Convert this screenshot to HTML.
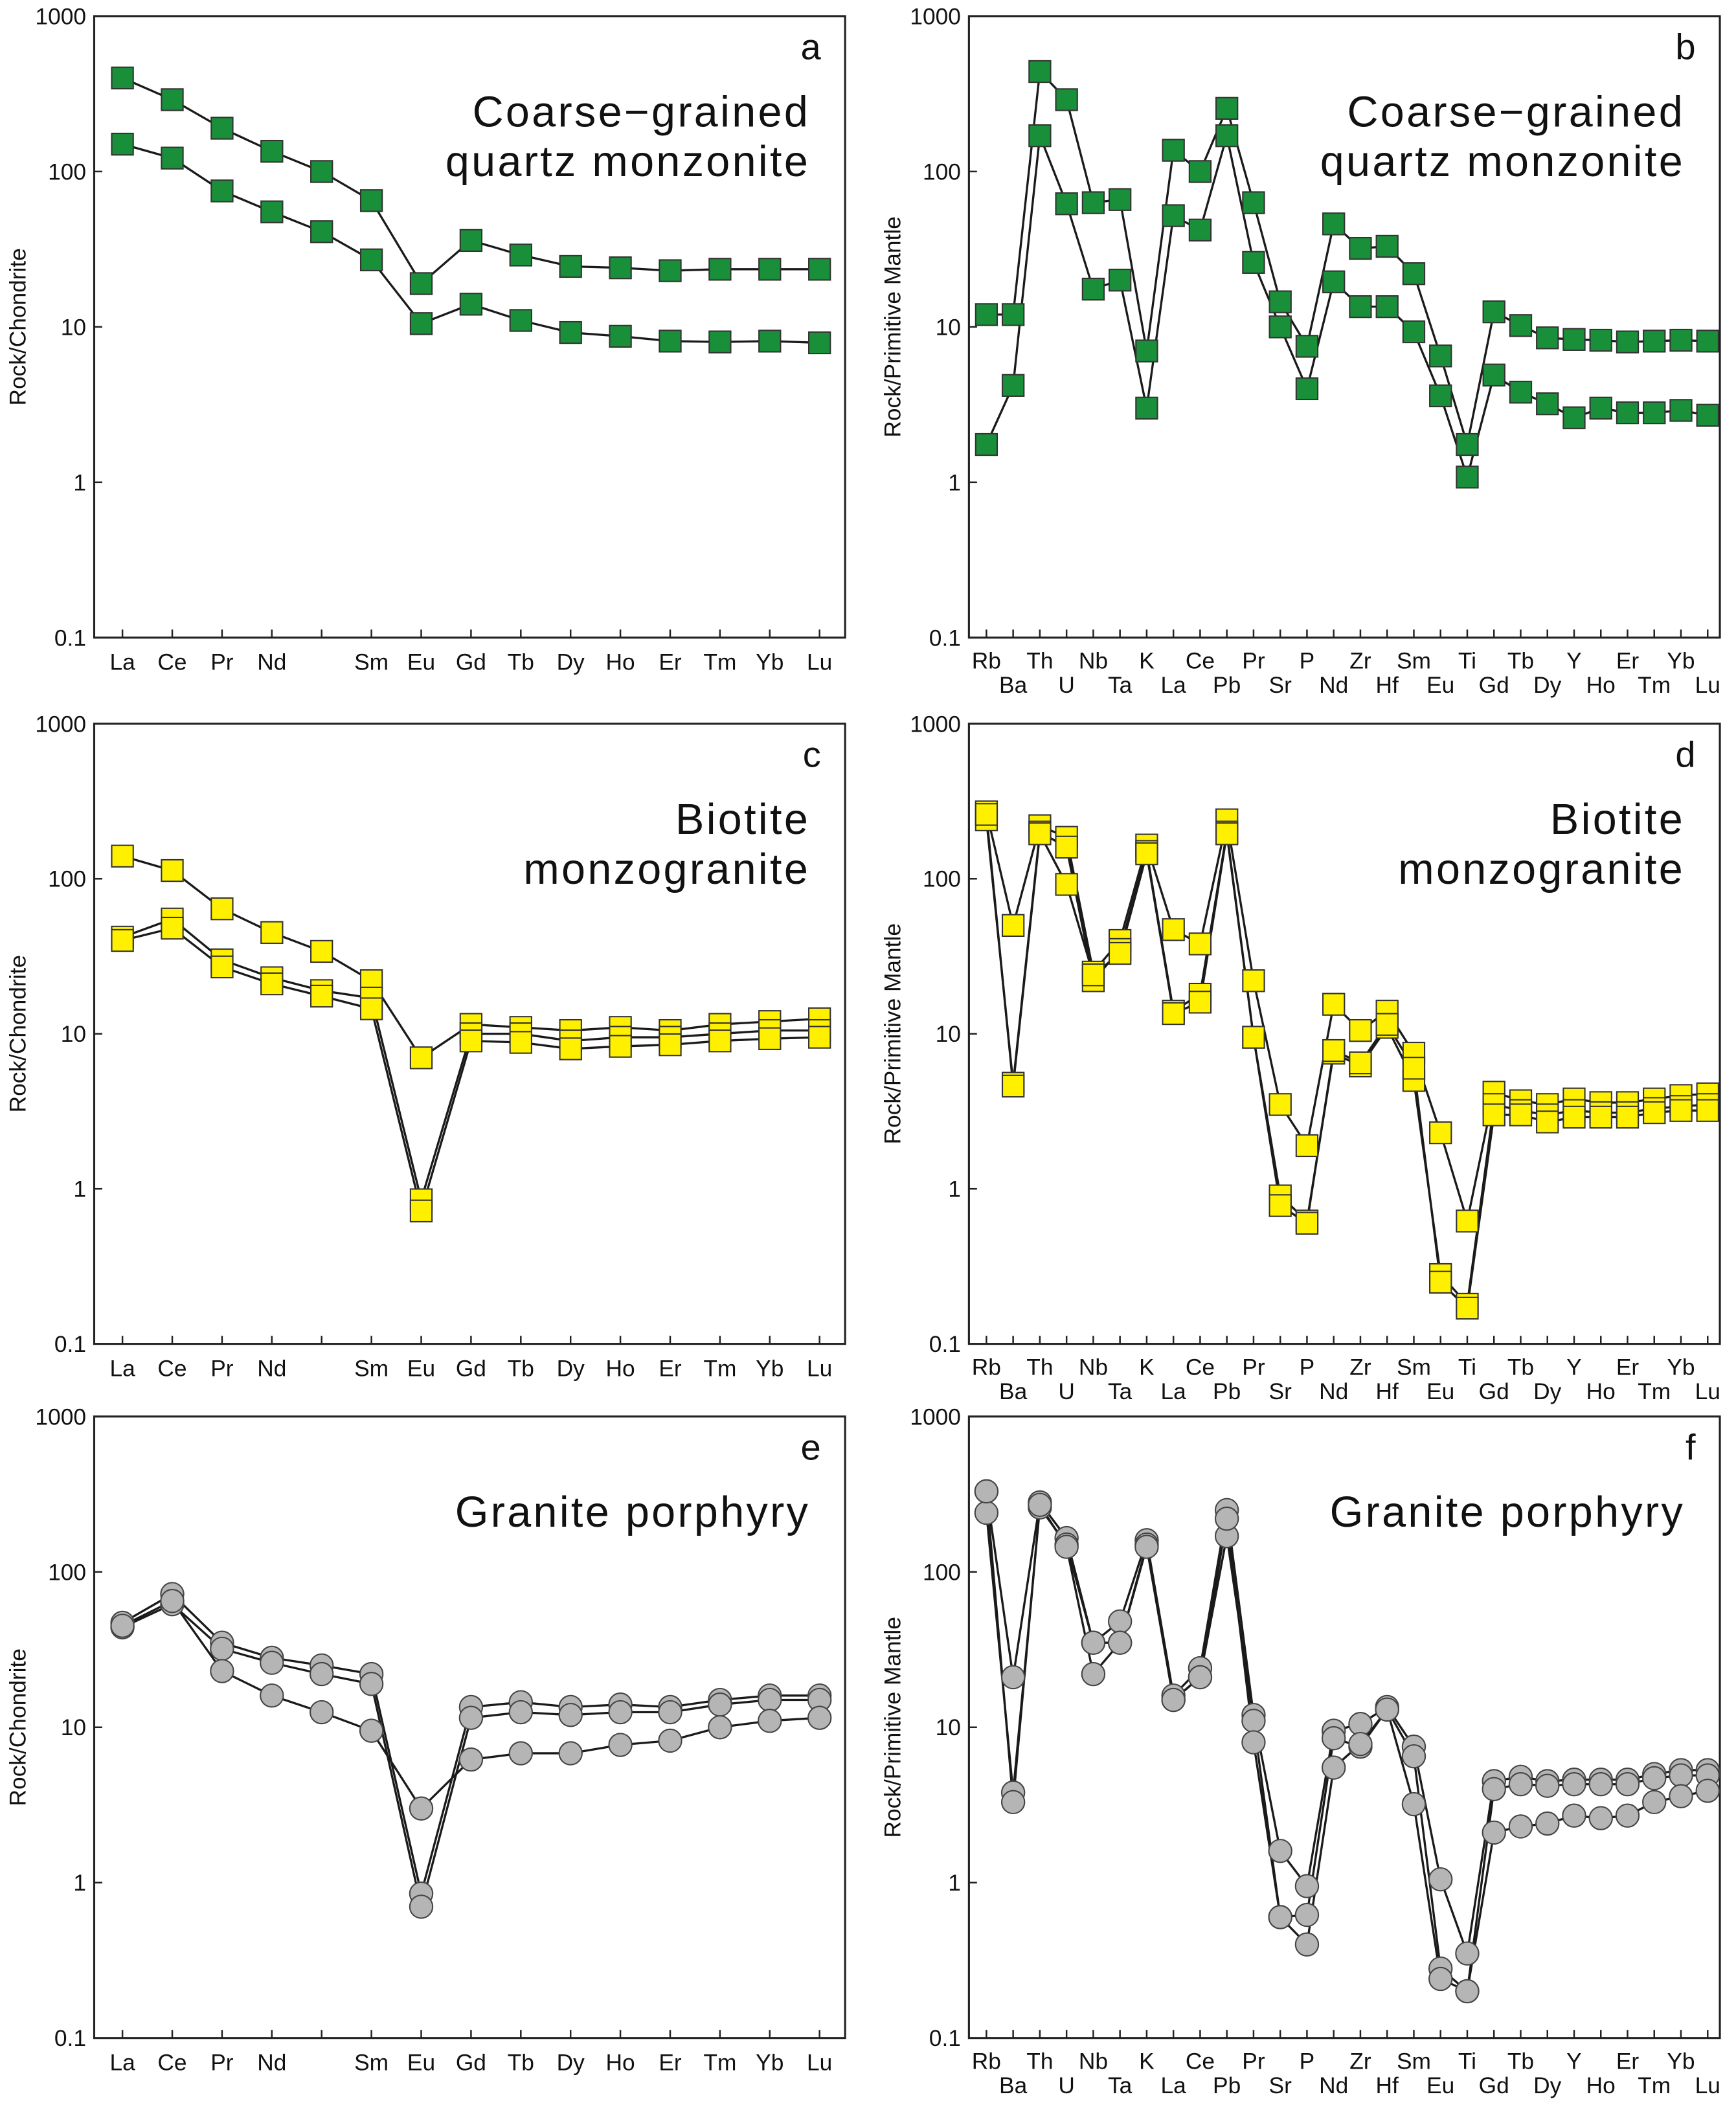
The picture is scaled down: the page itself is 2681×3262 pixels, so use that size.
<!DOCTYPE html>
<html><head><meta charset="utf-8"><style>
html,body{margin:0;padding:0;background:#fff}
svg{display:block}
text{font-family:"Liberation Sans",sans-serif;fill:#111}
</style></head><body>
<svg id="fig" width="2681" height="3262" viewBox="0 0 1290 1570" preserveAspectRatio="none" xmlns="http://www.w3.org/2000/svg"></svg>
<script>
const reeLabels = ["La","Ce","Pr","Nd","","Sm","Eu","Gd","Tb","Dy","Ho","Er","Tm","Yb","Lu"];
const spiderLabels = ["Rb","Ba","Th","U","Nb","Ta","K","La","Ce","Pb","Pr","Sr","P","Nd","Zr","Hf","Sm","Eu","Ti","Gd","Tb","Dy","Y","Ho","Er","Tm","Yb","Lu"];
const yTicks = [1000,100,10,1,0.1];
const yTickLabels = ["1000","100","10","1","0.1"];

const aSeries1 = [400,290,190,135,100,65,19,36,29,24.5,24,23,23.5,23.5,23.5];
const aSeries2 = [150,122,75,55,41,27,10.5,14,11,9.2,8.7,8.1,8,8.1,7.9];
const bSeries1 = [12,12,440,290,63,66,7,137,100,255,63,14.5,7.5,46,32,33,22,6.5,1.75,12.5,10.2,8.5,8.3,8.2,8,8.1,8.2,8.1];
const bSeries2 = [1.75,4.2,170,62,17.5,20,3,52,42,170,26,10,4,19.5,13.5,13.5,9.3,3.6,1.08,4.9,3.8,3.2,2.6,3,2.8,2.8,2.9,2.7];
const cSeries1 = [140,113,64,45,34,22,7,11.5,11,10.5,11,10.5,11.5,12,12.5];
const cSeries2 = [42,55,30,23,19,17,0.85,10,10,9,9.5,9.5,10,10.5,10.5];
const cSeries3 = [40,48,27,21,17.5,14.5,0.72,9,8.8,8,8.3,8.5,9,9.3,9.5];
const dSeries1 = [270,50,220,185,25,40,165,47,38,240,22,3.5,1.9,15.5,10.5,14,7.5,2.3,0.62,4.2,3.7,3.5,3.8,3.6,3.6,3.8,4,4.1];
const dSeries2 = [240,4.8,200,160,22,35,150,14,18,200,9.5,0.9,0.62,7.5,6.2,11,5,0.28,0.18,3.5,3.2,3,3.2,3.1,3.1,3.3,3.4,3.5];
const dSeries3 = [260,4.6,195,92,24,33,145,13.5,16,195,9.5,0.78,0.6,7.8,6.5,11.5,6,0.25,0.17,3,3,2.7,2.9,2.9,2.9,3.1,3.2,3.2];
const eSeries1 = [47,72,35,28,25,22,0.85,13.5,14.5,13.5,14,13.5,15,16,16];
const eSeries2 = [44,62,32,26,22,19,0.7,11.5,12.5,12,12.5,12.5,14,15,15];
const eSeries3 = [45,65,23,16,12.5,9.5,3,6.2,6.8,6.8,7.7,8.2,10,11,11.5];
const fSeries1 = [330,21,280,165,35,48,160,16,24,250,12,1.6,0.95,9.5,10.5,13.5,7.5,1.05,0.35,4.5,4.8,4.5,4.6,4.6,4.6,5,5.3,5.3];
const fSeries2 = [240,3.8,260,150,35,35,150,15,21,170,11,0.6,0.62,8.5,7.5,13,6.5,0.28,0.2,4,4.3,4.2,4.3,4.3,4.3,4.7,4.9,4.9];
const fSeries3 = [330,3.3,270,145,22,35,145,15,21,220,8,0.6,0.4,5.5,7.8,13,3.2,0.24,0.2,2.1,2.3,2.4,2.7,2.6,2.7,3.3,3.6,3.9];

const NS="http://www.w3.org/2000/svg";
const svg=document.getElementById('fig');
function mk(tag,attrs,parent){const e=document.createElementNS(NS,tag);for(const k in attrs)e.setAttribute(k,attrs[k]);(parent||svg).appendChild(e);return e;}

const panels=[
 {id:'a',x0:70,y0:12,x1:628,y1:474,labels:reeLabels,series:[aSeries1,aSeries2],marker:'sq',fill:'#1a8f3a',ytitle:'Rock/Chondrite',title:['Coarse\u2212grained','quartz monzonite']},
 {id:'b',x0:720,y0:12,x1:1278,y1:474,labels:spiderLabels,series:[bSeries1,bSeries2],marker:'sq',fill:'#1a8f3a',ytitle:'Rock/Primitive Mantle',title:['Coarse\u2212grained','quartz monzonite']},
 {id:'c',x0:70,y0:538,x1:628,y1:999,labels:reeLabels,series:[cSeries1,cSeries2,cSeries3],marker:'sq',fill:'#fff000',ytitle:'Rock/Chondrite',title:['Biotite','monzogranite']},
 {id:'d',x0:720,y0:538,x1:1278,y1:999,labels:spiderLabels,series:[dSeries1,dSeries2,dSeries3],marker:'sq',fill:'#fff000',ytitle:'Rock/Primitive Mantle',title:['Biotite','monzogranite']},
 {id:'e',x0:70,y0:1053,x1:628,y1:1515,labels:reeLabels,series:[eSeries1,eSeries2,eSeries3],marker:'ci',fill:'#b5b5b5',ytitle:'Rock/Chondrite',title:['Granite porphyry']},
 {id:'f',x0:720,y0:1053,x1:1278,y1:1515,labels:spiderLabels,series:[fSeries1,fSeries2,fSeries3],marker:'ci',fill:'#b5b5b5',ytitle:'Rock/Primitive Mantle',title:['Granite porphyry']}
];

panels.forEach(p=>{
  const g=mk('g',{});
  
  
  const ree=p.labels.length===15;
  const off=ree?21:13, step=ree?37:19.85;
  const xs=i=>p.x0+off+i*step;
  const ys=v=>p.y1-(Math.log10(v)+1)*(p.y1-p.y0)/4;
  const box=mk('rect',{x:p.x0,y:p.y0,width:p.x1-p.x0,height:p.y1-p.y0,fill:'none',stroke:'#222','stroke-width':1.5},g);
  
  
  yTicks.forEach((t,i)=>{
    const y=ys(t);
    mk('line',{x1:p.x0,x2:p.x0+6,y1:y,y2:y,stroke:'#222','stroke-width':1.2},g);
    const tl=mk('text',{x:p.x0-6,y:y+6,'text-anchor':'end','font-size':17},g);
    tl.textContent=yTickLabels[i];
    
    
  });
  p.labels.forEach((l,i)=>{
    const x=xs(i);
    mk('line',{x1:x,x2:x,y1:p.y1,y2:p.y1-6,stroke:'#222','stroke-width':1.2},g);
    if(!l)return;
    const ty=ree?p.y1+24:(i%2===0?p.y1+23:p.y1+41);
    const tl=mk('text',{x:x,y:ty,'text-anchor':'middle','font-size':17},g);
    tl.textContent=l;
    
    
  });
  const cy=(p.y0+p.y1)/2, tx=p.x0-51;
  const yt=mk('text',{x:tx,y:cy,'text-anchor':'middle','font-size':17,transform:`rotate(-90 ${tx} ${cy})`},g);
  yt.textContent=p.ytitle;
  
  
  const lt=mk('text',{x:p.x1-18,y:p.y0+32,'text-anchor':'end','font-size':27},g);
  lt.textContent=p.id;
  
  
  p.title.forEach((t,i)=>{
    const tt=mk('text',{x:p.x1-26,y:p.y0+82+i*37,'text-anchor':'end','font-size':32,'letter-spacing':1.6},g);
    tt.textContent=t;
    
    
  });
  p.series.forEach((s,si)=>{
    const pts=s.map((v,i)=>xs(i)+','+ys(v)).join(' ');
    const pl=mk('polyline',{points:pts,fill:'none',stroke:'#1a1a1a','stroke-width':1.6},g);
    
    
  });
  p.series.forEach((s,si)=>{
    s.forEach((v,i)=>{
      const x=xs(i), y=ys(v);
      let m;
      if(p.marker==='sq') m=mk('rect',{x:x-8,y:y-8,width:16,height:16,fill:p.fill,stroke:'#333','stroke-width':1},g);
      else m=mk('circle',{cx:x,cy:y,r:8.5,fill:p.fill,stroke:'#444','stroke-width':1},g);
      
      
    });
  });
});
</script>
</body></html>
